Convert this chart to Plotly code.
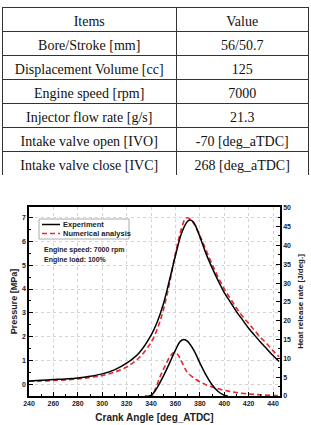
import plotly.graph_objects as go

W, H = 311, 425
def px(x): return x / W
def py(y): return 1 - y / H

# ---- table data ----
items = ["Bore/Stroke [mm]", "Displacement Volume [cc]", "Engine speed [rpm]",
         "Injector flow rate [g/s]", "Intake valve open [IVO]", "Intake valve close [IVC]"]
values = ["56/50.7", "125", "7000", "21.3", "-70 [deg_aTDC]", "268 [deg_aTDC]"]
headers = ["Items", "Value"]

# ---- chart data ----
ca_p_exp = [240, 250, 260, 270, 280, 290, 300, 310, 320, 330, 340, 345, 350, 355, 360, 365, 370, 372,
            375, 380, 385, 390, 395, 400, 405, 410, 415, 420, 425, 430, 435, 440, 445]
p_exp = [0.13, 0.16, 0.19, 0.22, 0.26, 0.33, 0.43, 0.6, 0.88, 1.3, 2.05, 2.6, 3.35, 4.35, 5.4, 6.35, 6.85, 6.9,
         6.8, 6.2, 5.5, 4.9, 4.35, 3.85, 3.45, 3.05, 2.7, 2.35, 2.05, 1.75, 1.48, 1.2, 0.95]

ca_p_num = [240, 250, 260, 270, 280, 290, 300, 310, 320, 330, 340, 345, 350, 355, 360, 365, 368, 370,
            373, 375, 380, 385, 390, 395, 400, 405, 410, 415, 420, 425, 430, 435, 440, 445]
p_num = [0.12, 0.13, 0.15, 0.18, 0.22, 0.28, 0.36, 0.5, 0.72, 1.1, 1.75, 2.3, 3.1, 4.2, 5.5, 6.55, 6.95, 7.0,
         6.9, 6.75, 6.25, 5.65, 5.05, 4.5, 4.0, 3.6, 3.2, 2.85, 2.55, 2.25, 1.95, 1.7, 1.4, 1.15]

ca_h_exp = [335, 339, 342, 345, 350, 355, 360, 364, 367, 370, 375, 380, 385, 390, 395, 400, 403]
h_exp = [0, 0, 0.8, 2.2, 5.2, 8.6, 12.2, 14.5, 15.0, 14.5, 12.2, 8.8, 5.6, 3.0, 1.2, 0.2, 0]

ca_h_num = [338, 341, 343, 345, 347, 350, 353, 356, 358, 360, 363, 365, 368, 370, 375, 380, 385, 390,
            395, 400, 405, 410, 420, 430, 440, 445]
h_num = [0, 0, 1.5, 3.0, 4.8, 7.0, 9.0, 10.7, 11.4, 11.5, 10.5, 9.2, 7.2, 6.2, 4.8, 3.8, 3.0, 2.4,
         1.9, 1.5, 1.2, 0.9, 0.55, 0.3, 0.15, 0.1]

RED = "#e8262b"
SANS = "Liberation Sans, Arial"
SERIF = "Liberation Serif, Times New Roman"

fig = go.Figure()

fig.add_trace(go.Table(
    domain=dict(x=[px(2), px(309)], y=[py(176), py(7)]),
    columnwidth=[175, 132],
    header=dict(values=headers, height=24, align="center",
                line=dict(color="#333", width=1), fill_color="white",
                font=dict(family=SERIF, size=14, color="#111")),
    cells=dict(values=[items, values], height=24, align="center",
               line=dict(color="#333", width=1), fill_color="white",
               font=dict(family=SERIF, size=14, color="#111")),
))

fig.add_trace(go.Scatter(x=ca_h_num, y=h_num, yaxis="y2", mode="lines", line_shape="spline",
                         line=dict(color=RED, width=1.6, dash="5px,3px"), showlegend=False))
fig.add_trace(go.Scatter(x=ca_h_exp, y=h_exp, yaxis="y2", mode="lines", line_shape="spline",
                         line=dict(color="black", width=1.5), showlegend=False))
fig.add_trace(go.Scatter(x=ca_p_num, y=p_num, mode="lines", line_shape="spline",
                         line=dict(color=RED, width=1.6, dash="5px,3px"), showlegend=False))
fig.add_trace(go.Scatter(x=ca_p_exp, y=p_exp, mode="lines", line_shape="spline",
                         line=dict(color="black", width=1.5), showlegend=False))

tickfont = dict(family=SANS, size=7, color="#222", weight="bold")
titlefont = dict(family=SANS, size=10, color="#222", weight="bold")

fig.update_layout(
    width=W, height=H, margin=dict(l=0, r=0, t=0, b=0),
    paper_bgcolor="white", plot_bgcolor="white", showlegend=False,
    xaxis=dict(domain=[px(29), px(280)], range=[240, 445.7], dtick=20, tick0=240,
               ticks="inside", ticklen=4, tickwidth=1, tickcolor="black",
               minor=dict(dtick=10, ticks="inside", ticklen=2, tickcolor="black", showgrid=False),
               showline=True, linecolor="black", linewidth=1.5, mirror=True,
               showgrid=True, gridcolor="#d4d4d4", griddash="dot", gridwidth=1,
               tickfont=tickfont, automargin=False, zeroline=False,
               title=dict(text="Crank Angle [deg_ATDC]", font=titlefont, standoff=8)),
    yaxis=dict(domain=[py(396), py(207)], range=[-0.5, 7.45], dtick=1, tick0=0,
               ticks="inside", ticklen=4, tickwidth=1, tickcolor="black",
               minor=dict(dtick=0.5, ticks="inside", ticklen=2, tickcolor="black", showgrid=False),
               showline=True, linecolor="black", linewidth=1.5,
               showgrid=True, gridcolor="#d4d4d4", griddash="dot", gridwidth=1,
               tickfont=tickfont, automargin=False, zeroline=False,
               title=dict(text="Pressure [MPa]", font=dict(family=SANS, size=9, color="#222", weight="bold"), standoff=3)),
    yaxis2=dict(overlaying="y", side="right", anchor="x", range=[0, 50.2], dtick=5, tick0=0,
                ticks="inside", ticklen=4, tickwidth=1, tickcolor="black",
                minor=dict(dtick=2.5, ticks="inside", ticklen=2, tickcolor="black"),
                showline=True, linecolor="black", linewidth=1.5, showgrid=False,
                tickfont=tickfont, automargin=False, zeroline=False,
                title=dict(text="Heat release rate [J/deg.]", font=dict(family=SANS, size=8, color="#222", weight="bold"), standoff=7)),
)

# manual legend box
fig.add_shape(type="rect", xref="paper", yref="paper", x0=px(39), x1=px(129), y0=py(239), y1=py(219),
              line=dict(color="#aaa", width=1), fillcolor="white", layer="above")
fig.add_shape(type="line", xref="paper", yref="paper", x0=px(42), x1=px(60), y0=py(224.5), y1=py(224.5),
              line=dict(color="black", width=1.5), layer="above")
fig.add_shape(type="line", xref="paper", yref="paper", x0=px(42), x1=px(60), y0=py(233.5), y1=py(233.5),
              line=dict(color=RED, width=1.6, dash="5px,3px"), layer="above")
legfont = dict(family=SANS, size=7.5, color="#222", weight="bold")
fig.add_annotation(x=px(61), y=py(224.5), xref="paper", yref="paper", text="Experiment",
                   showarrow=False, xanchor="left", yanchor="middle", font=legfont)
fig.add_annotation(x=px(61), y=py(233.5), xref="paper", yref="paper", text="Numerical analysis",
                   showarrow=False, xanchor="left", yanchor="middle", font=legfont)
fig.add_annotation(x=px(42), y=py(250), xref="paper", yref="paper", text="Engine speed: 7000 rpm",
                   showarrow=False, xanchor="left", yanchor="middle", font=dict(family=SANS, size=7, color="#222", weight="bold"))
fig.add_annotation(x=px(42), y=py(259.5), xref="paper", yref="paper", text="Engine load: 100%",
                   showarrow=False, xanchor="left", yanchor="middle", font=dict(family=SANS, size=7, color="#222", weight="bold"))

fig.write_html("out.html")
